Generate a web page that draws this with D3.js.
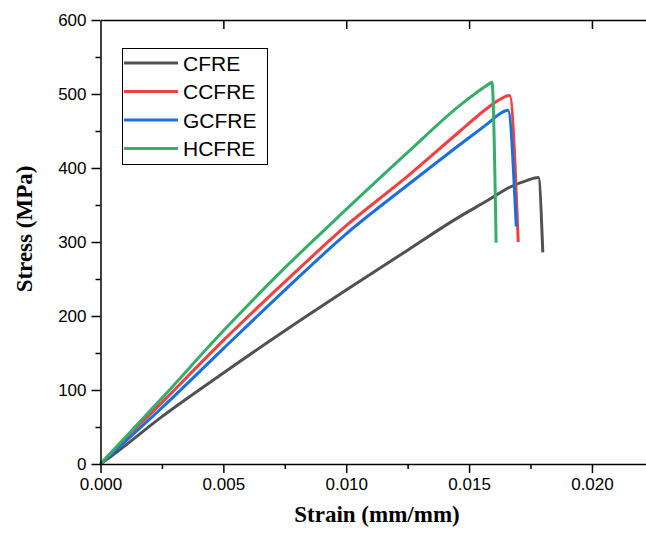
<!DOCTYPE html>
<html>
<head>
<meta charset="utf-8">
<script src="https://cdn.jsdelivr.net/npm/d3@7"></script>
<style>
  body { margin: 0; background: #fff; }
  svg { display: block; }
</style>
</head>
<body>
<svg id="chart"></svg>
<script>
// strain (mm/mm), stress (MPa)
const cfre = [[0, 0], [0.0005, 12], [0.0025, 64], [0.005, 123], [0.0075, 180], [0.010, 235], [0.0125, 289],
  [0.0146, 334], [0.0158, 357], [0.01665, 374], [0.01734, 383], [0.01782, 387], [0.0180, 286]];
const ccfre = [[0, 0], [0.0004, 14], [0.0025, 83], [0.005, 167], [0.0075, 246], [0.010, 322], [0.0125, 389],
  [0.0146, 449], [0.01563, 478], [0.01612, 490], [0.01665, 498], [0.0170, 300]];
const gcfre = [[0, 0], [0.0025, 76], [0.005, 156], [0.0075, 235], [0.010, 311], [0.0125, 377],
  [0.0146, 431], [0.01583, 462], [0.01624, 473], [0.01658, 478], [0.01692, 321]];
const hcfre = [[0, 0], [0.0025, 89], [0.005, 180], [0.0075, 265], [0.010, 344], [0.0125, 421],
  [0.0146, 484], [0.01535, 503], [0.01583, 514], [0.01593, 516], [0.0161, 299]];

const seriesNames = ["CFRE", "CCFRE", "GCFRE", "HCFRE"];
const seriesData = [cfre, ccfre, gcfre, hcfre];
const colors = ["#515151", "#F14040", "#1A6FDF", "#37AD6B"];

const xTicks = [0, 0.005, 0.010, 0.015, 0.020];
const yTicks = [0, 100, 200, 300, 400, 500, 600];

const svgWidth = 646, svgHeight = 534;
const margin = { top: 20, right: 0, bottom: 70, left: 100.5 };

const svg = d3.select("#chart")
    .attr("width", svgWidth)
    .attr("height", svgHeight);

const x = d3.scaleLinear()
    .domain([0, 0.0222])
    .range([margin.left, svgWidth - margin.right]);

const y = d3.scaleLinear()
    .domain([0, 600])
    .range([svgHeight - margin.bottom, margin.top]);

// Curves
const line = d3.line()
    .curve(d3.curveMonotoneX)
    .x(d => x(d[0]))
    .y(d => y(d[1]));

svg.append("g")
    .selectAll("path")
    .data(seriesData)
    .enter().append("path")
    .attr("d", line)
    .attr("fill", "none")
    .attr("stroke", (d, i) => colors[i])
    .attr("stroke-width", 3)
    .attr("stroke-linejoin", "round");

// Minor ticks
const xMinor = d3.range(0.0025, 0.0222, 0.005);
const yMinor = d3.range(50, 600, 100);

svg.append("g")
    .attr("transform", `translate(0, ${y(0)})`)
    .call(d3.axisBottom(x).tickValues(xMinor).tickSize(5).tickFormat(""))
    .call(g => g.select(".domain").remove())
    .call(g => g.selectAll("line").attr("stroke-width", 1.5));

svg.append("g")
    .attr("transform", `translate(${x(0)}, 0)`)
    .call(d3.axisLeft(y).tickValues(yMinor).tickSize(5).tickFormat(""))
    .call(g => g.select(".domain").remove())
    .call(g => g.selectAll("line").attr("stroke-width", 1.5));

// Bottom axis
svg.append("g")
    .attr("transform", `translate(0, ${y(0)})`)
    .call(d3.axisBottom(x).tickValues(xTicks).tickSize(9).tickSizeOuter(0).tickPadding(5).tickFormat(d3.format(".3f")))
    .call(g => g.select(".domain").attr("stroke-width", 1.5))
    .call(g => g.selectAll("line").attr("stroke-width", 1.5))
    .call(g => g.selectAll("text")
        .attr("font-family", "Liberation Sans, Arial, sans-serif")
        .attr("font-size", 17)
        .attr("fill", "#000"));

// Left axis
svg.append("g")
    .attr("transform", `translate(${x(0)}, 0)`)
    .call(d3.axisLeft(y).tickValues(yTicks).tickSize(9).tickSizeOuter(0).tickPadding(5))
    .call(g => g.select(".domain").attr("stroke-width", 1.5))
    .call(g => g.selectAll("line").attr("stroke-width", 1.5))
    .call(g => g.selectAll("text")
        .attr("font-family", "Liberation Sans, Arial, sans-serif")
        .attr("font-size", 17)
        .attr("fill", "#000"));

// Top frame with inward ticks
svg.append("g")
    .attr("transform", `translate(0, ${y(600)})`)
    .call(d3.axisBottom(x).tickValues(xTicks.slice(1)).tickSize(9).tickSizeOuter(0).tickFormat(""))
    .call(g => g.select(".domain").attr("stroke-width", 1.5))
    .call(g => g.selectAll("line").attr("stroke-width", 1.5));

// Axis titles
svg.append("text")
    .attr("x", 377)
    .attr("y", 522)
    .attr("text-anchor", "middle")
    .attr("font-family", "Liberation Serif, Times New Roman, serif")
    .attr("font-weight", "bold")
    .attr("font-size", 23)
    .text("Strain (mm/mm)");

svg.append("text")
    .attr("transform", "translate(32, 229) rotate(-90)")
    .attr("text-anchor", "middle")
    .attr("font-family", "Liberation Serif, Times New Roman, serif")
    .attr("font-weight", "bold")
    .attr("font-size", 23)
    .text("Stress (MPa)");

// Legend
svg.append("rect")
    .attr("x", 122.5)
    .attr("y", 48.5)
    .attr("width", 145)
    .attr("height", 116)
    .attr("fill", "#fff")
    .attr("stroke", "#000")
    .attr("stroke-width", 1);

const legend = svg.selectAll(".legend")
    .data(seriesNames)
    .enter().append("g")
    .attr("class", "legend")
    .attr("transform", (d, i) => `translate(0, ${63 + i * 28.5})`);

legend.append("line")
    .attr("x1", 124)
    .attr("x2", 178)
    .attr("stroke", (d, i) => colors[i])
    .attr("stroke-width", 3);

legend.append("text")
    .attr("x", 183)
    .attr("dy", "0.36em")
    .attr("font-family", "Liberation Sans, Arial, sans-serif")
    .attr("font-size", 21)
    .text(d => d);
</script>
</body>
</html>
